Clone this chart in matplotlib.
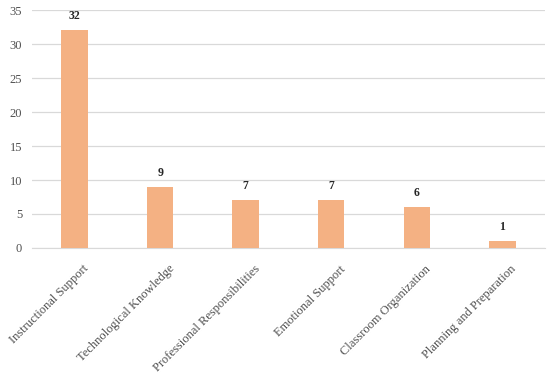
import matplotlib
matplotlib.use('Agg')
import matplotlib.pyplot as plt
import matplotlib.transforms as mtransforms

categories = ['Instructional Support', 'Technological Knowledge', 'Professional Responsibilities',
              'Emotional Support', 'Classroom Organization', 'Planning and Preparation']
counts = [32, 9, 7, 7, 6, 1]
yticks = [0, 5, 10, 15, 20, 25, 30, 35]

plt.rcParams['font.family'] = ['Liberation Serif', 'DejaVu Serif']

fig = plt.figure(figsize=(5.5, 3.74), dpi=100)
ax = fig.add_axes([0.058, 0.337, 0.933, 0.636])

x = list(range(len(categories)))
bars = ax.bar(x, counts, width=0.31, color='#F4B183', zorder=3)

for b, v in zip(bars, counts):
    ax.text(b.get_x() + b.get_width() / 2, v + 1.2, str(v), ha='center', va='bottom',
            fontsize=8.5, fontweight='bold', color='#262626')

ax.set_ylim(0, 35)
ax.set_xlim(-0.5, len(categories) - 0.5)
ax.set_yticks(yticks)
ax.set_xticks(x)
ax.set_xticklabels([])

# category labels, rotated 45 deg, nudged right/down from the tick like the original
offset = mtransforms.ScaledTranslation(8 / 100, -15 / 100, fig.dpi_scale_trans)
trans = ax.get_xaxis_transform() + offset
for i, name in zip(x, categories):
    ax.text(i, 0, name, transform=trans, rotation=45, ha='right', va='top',
            rotation_mode='anchor', fontsize=9, color='#505050')

ax.tick_params(axis='y', labelsize=9, labelcolor='#505050', length=0, pad=7)
ax.tick_params(axis='x', length=0)
ax.yaxis.grid(True, color='#D9D9D9', linewidth=0.9, zorder=0)

for s in ['top', 'right', 'left']:
    ax.spines[s].set_visible(False)
ax.spines['bottom'].set_color('#D9D9D9')

plt.savefig('out.png', dpi=100)
